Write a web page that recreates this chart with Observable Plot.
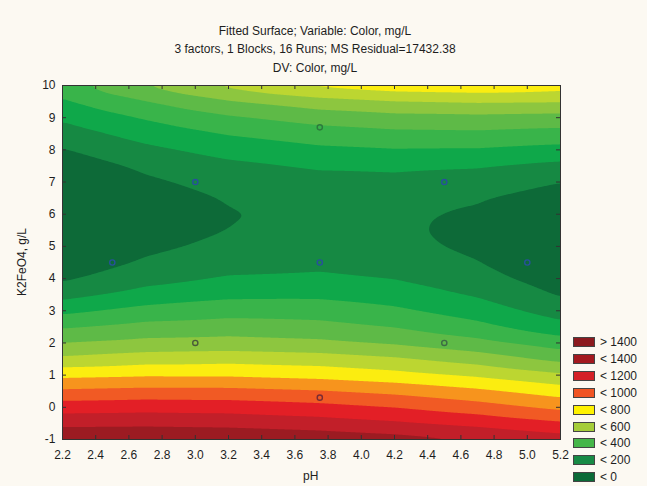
<!DOCTYPE html>
<html><head><meta charset="utf-8">
<script src="https://cdn.jsdelivr.net/npm/d3@7"></script>
<script src="https://cdn.jsdelivr.net/npm/@observablehq/plot@0.6"></script>
<style>
body{margin:0;background:#fcf9f2;font-family:"Liberation Sans",Arial,sans-serif;color:#1e1e1e;}
#wrap{position:relative;width:647px;height:486px;overflow:hidden;}
#chart{position:absolute;left:0;top:0;}
.title{position:absolute;left:115px;width:400px;text-align:center;font-size:12px;line-height:14px;white-space:nowrap;}
.lab{position:absolute;font-size:12px;line-height:14px;white-space:nowrap;}
.lg{position:absolute;left:573px;width:22px;height:10px;border:1px solid #444;box-sizing:border-box;}
.lgt{position:absolute;left:600px;font-size:12px;line-height:12px;white-space:nowrap;}
</style></head><body>
<div id="wrap">
<div id="chart"></div>
<div class="title" style="top:24px">Fitted Surface; Variable: Color, mg/L</div>
<div class="title" style="top:42px">3 factors, 1 Blocks, 16 Runs; MS Residual=17432.38</div>
<div class="title" style="top:61px">DV: Color, mg/L</div>
<div class="lab" style="left:303px;top:469px">pH</div>
<div class="lab" style="left:22px;top:262px;transform:translate(-50%,-50%) rotate(-90deg)">K2FeO4, g/L</div>
<div id="legend"></div>
</div>
<script>
// grid of pH positions (columns) and K2FeO4 levels (rows)
const pH = [2.2, 2.7, 3.2, 3.75, 4.2, 4.7, 5.2];
const K = [-1,-0.5,0,0.5,1,1.5,2,2.5,3,3.5,4,4.5,5,5.5,6,6.5,7,7.5,8,8.5,9,9.5,10];
// fitted Color (mg/L) read along each pH column, bottom to top
const colorAtPH22  = [1190,1073,955,818,675,521,400,289,175,64,-15,-67,-103,-125,-131,-122,-99,-60,-6,53,117,186,256];
const colorAtPH27  = [1195,1077,964,832,689,554,429,332,233,137,65,13,-23,-44,-51,-42,-18,20,76,140,209,295,405];
const colorAtPH32  = [1188,1069,958,830,687,565,437,348,260,176,110,60,26,1,-6,6,37,76,137,206,285,390,525];
const colorAtPH375 = [1168,1046,933,808,666,549,420,333,253,180,120,74,43,27,25,39,68,112,179,255,340,460,625];
const colorAtPH42  = [1142,1016,899,775,634,515,387,296,219,152,97,55,28,16,19,37,70,121,194,276,365,495,662];
const colorAtPH47  = [1102,972,845,722,584,456,330,229,152,89,39,3,-19,-24,-15,9,49,109,191,281,372,510,675];
const colorAtPH52  = [1051,916,776,653,517,373,251,135,54,-8,-53,-83,-97,-95,-78,-46,2,74,166,264,362,505,650];
const columns = [colorAtPH22, colorAtPH27, colorAtPH32, colorAtPH375, colorAtPH42, colorAtPH47, colorAtPH52];

// contour levels and band colours
const thresholds = [-1000,0,100,200,300,400,500,600,700,800,900,1000,1100];
const bandColors = ["#0d6a38","#168943","#0fa84a","#39b44a","#5eba47","#8dc63f","#bcd631","#fbed10","#f7941d","#f15a24","#e31f26","#c21f29","#9c1b22"];

// experimental runs
const runPH = [2.5, 3.0, 4.5, 3.75, 5.0, 3.75, 3.0, 4.5, 3.75];
const runK  = [4.5, 7.0, 7.0, 4.5, 4.5, 8.7, 2.0, 2.0, 0.3];
const runStroke = ["#28509c","#28509c","#28509c","#28509c","#28509c","#2c7a3c","#4a5a3a","#3d6b45","#7a2c33"];

// legend
const legendLabels = ["> 1400","< 1400","< 1200","< 1000","< 800","< 600","< 400","< 200","< 0"];
const legendColors = ["#8b1a1f","#a3191f","#d42027","#f05423","#fff200","#a5cd39","#45b649","#178a45","#0b6a37"];

// axis ticks
const xTicks = d3.range(0, 16).map(i => +(2.2 + i * 0.2).toFixed(1));
const yTicks = d3.range(-1, 11);

const data = [];
K.forEach((k, i) => columns.forEach((col, j) => data.push({pH: pH[j], K: k, v: col[i]})));
const runs = runPH.map((p, i) => ({pH: p, K: runK[i], c: runStroke[i]}));

const W = 647, H = 486, mL = 62, mR = 87, mT = 85, mB = 47;
const innerW = W - mL - mR, innerH = H - mT - mB;

const chart = Plot.plot({
  width: W, height: H,
  marginLeft: mL, marginRight: mR, marginTop: mT, marginBottom: mB,
  style: {background: "transparent", fontFamily: '"Liberation Sans", Arial, sans-serif', fontSize: "12px", color: "#1e1e1e"},
  x: {domain: [2.2, 5.2]},
  y: {domain: [-1, 10]},
  color: {type: "ordinal", domain: thresholds, range: bandColors},
  marks: [
    Plot.frame({fill: bandColors[0]}),
    Plot.contour(data, {x: "pH", y: "K", fill: "v", thresholds, interpolate: "barycentric",
      x1: 2.2, x2: 5.2, y1: -1, y2: 10, pixelSize: 1, blur: 3, stroke: "none"}),
    Plot.dot(runs, {x: "pH", y: "K", r: 2.6, stroke: d => d.c, strokeWidth: 1.4, fill: "none"}),
    Plot.ruleX(xTicks, {insetBottom: innerH - 4, stroke: "#333"}),
    Plot.ruleX(xTicks, {insetTop: innerH - 4, stroke: "#333"}),
    Plot.ruleY(yTicks, {insetRight: innerW - 4, stroke: "#333"}),
    Plot.ruleY(yTicks, {insetLeft: innerW - 4, stroke: "#333"}),
    Plot.frame({stroke: "#333"}),
    Plot.axisX({ticks: xTicks, tickSize: 0, tickPadding: 11, tickFormat: d => d.toFixed(1), label: null}),
    Plot.axisY({ticks: yTicks, tickSize: 0, tickPadding: 7, tickFormat: d => String(d), label: null})
  ]
});
document.getElementById("chart").appendChild(chart);

const lg = document.getElementById("legend");
legendLabels.forEach((t, i) => {
  const top = 337 + i * 16.9;
  const b = document.createElement("div");
  b.className = "lg"; b.style.top = top + "px"; b.style.background = legendColors[i];
  lg.appendChild(b);
  const s = document.createElement("div");
  s.className = "lgt"; s.style.top = (top - 1) + "px"; s.textContent = t;
  lg.appendChild(s);
});
</script>
</body></html>
